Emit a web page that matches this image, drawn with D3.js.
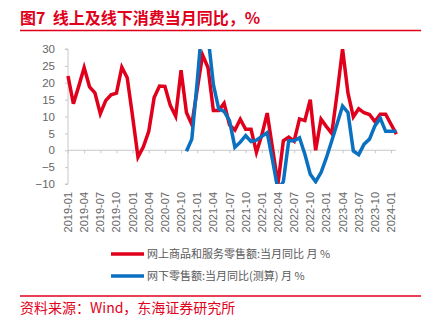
<!DOCTYPE html>
<html><head><meta charset="utf-8">
<script src="https://cdn.jsdelivr.net/npm/d3@7/dist/d3.min.js"></script>
<style>
body{margin:0;background:#fff;}
svg{display:block;font-family:"Liberation Sans",Arial,"Noto Sans CJK SC",sans-serif;}
</style></head><body>
<svg id="c" width="432" height="322"></svg>
<script>
// Months 2019-01 .. 2024-02
const months = d3.timeMonth.range(new Date(2019,0,1), new Date(2024,2,1)).map(d3.timeFormat("%Y-%m"));
const tickLabels = ["2019-01","2019-04","2019-07","2019-10","2020-01","2020-04","2020-07","2020-10","2021-01","2021-04","2021-07","2021-10","2022-01","2022-04","2022-07","2022-10","2023-01","2023-04","2023-07","2023-10","2024-01"];
const yTicks = [-10,-5,0,5,10,15,20,25,30];
const onlineName = "网上商品和服务零售额:当月同比 月 %";
const offlineName = "网下零售额:当月同比(测算) 月 %";
const onlineValues = [22,13.8,19,24.5,18.8,17,10.8,14.7,16.4,16.9,24.6,21.5,
  10,-2,1,5.6,15.6,19,18.9,13.3,10.1,23.7,11.2,7.6,
  18,28.2,24.5,11.8,11.8,13.9,7.5,6,9.2,6.2,6.2,-0.6,
  4.5,11,0.5,-10,2.8,3.9,2.7,9.3,8.8,15,0,9.2,
  7,5,17,30,17,9.9,12.3,11.1,10.6,8.5,10.7,10.7,
  7.7,4.8];
// offline starts 2020-11
const offlineStart = "2020-11";
const offlineValues = [-0.3,3.3,20.3,39,34,19.5,12.2,11.5,8.8,0.9,2.4,4.3,
  2.6,3,4.1,5.2,-3,-11.8,-9.3,2.8,2.8,3.7,-1.2,-7.1,
  -9.3,-6.6,-2.2,2.8,7.9,13.1,11.2,-0.2,-1.3,1.8,3.3,7.2,
  9.5,5.6,5.6,5.6];

const svg = d3.select("#c");
const RED = "#e0001b", BLUE = "#0a70c0", GRAY = "#666";
const x = d3.scalePoint().domain(months).range([68, 396.4]);
const y = d3.scaleLinear().domain([-10, 30]).range([184, 49]);

// title
svg.append("text").attr("x", 20).attr("y", 24).attr("fill", RED)
  .attr("font-size", 16).attr("font-weight", "bold")
  .attr("font-family", "'Noto Sans CJK SC',sans-serif")
  .style("white-space", "pre")
  .text("图7  线上及线下消费当月同比，%");
svg.append("line").attr("x1", 20).attr("x2", 421).attr("y1", 30.5).attr("y2", 30.5)
  .attr("stroke", RED).attr("stroke-width", 1.5);

// y axis
const ya = svg.append("g").attr("transform", "translate(68,0)")
  .call(d3.axisLeft(y).tickValues(yTicks).tickSize(3).tickPadding(10));
ya.select(".domain").attr("stroke", "#c8c8c8").attr("d", `M-3,${y(-10)}H0V${y(30)}H-3`);
ya.selectAll(".tick line").attr("stroke", "#c8c8c8");
ya.selectAll(".tick text").attr("fill", GRAY).attr("font-size", 11.5);

// x axis at zero
const xa = svg.append("g").attr("transform", `translate(0,${y(0)})`)
  .call(d3.axisBottom(x).tickValues(tickLabels).tickSize(3).tickFormat(""));
xa.select(".domain").attr("stroke", "#c8c8c8").attr("d", `M68,0H396`);
xa.selectAll(".tick line").attr("stroke", "#c8c8c8");

// x labels at bottom, rotated
svg.append("g").selectAll("text").data(tickLabels).join("text")
  .attr("transform", d => `translate(${x(d)+4},192) rotate(-90)`)
  .attr("text-anchor", "end").attr("fill", GRAY).attr("font-size", 11)
  .text(d => d);

// clip
svg.append("clipPath").attr("id", "clip").append("rect")
  .attr("x", 60).attr("y", y(30)).attr("width", 350).attr("height", y(-10) - y(30));

const line = d3.line().x(d => x(d[0])).y(d => y(d[1]));
const onlineData = onlineValues.map((v, i) => [months[i], v]);
const s = months.indexOf(offlineStart);
const offlineData = offlineValues.map((v, i) => [months[s + i], v]);

const g = svg.append("g").attr("clip-path", "url(#clip)");
g.append("path").datum(onlineData).attr("d", line).attr("fill", "none")
  .attr("stroke", RED).attr("stroke-width", 3.5).attr("stroke-linejoin", "miter");
g.append("path").datum(offlineData).attr("d", line).attr("fill", "none")
  .attr("stroke", BLUE).attr("stroke-width", 3.5).attr("stroke-linejoin", "miter");

// legend
const leg = [[onlineName, RED, 254], [offlineName, BLUE, 276]];
leg.forEach(([t, c, yy]) => {
  svg.append("line").attr("x1", 111).attr("x2", 144).attr("y1", yy).attr("y2", yy)
    .attr("stroke", c).attr("stroke-width", 3.5);
  svg.append("text").attr("x", 147).attr("y", yy + 4).attr("fill", "#595959")
    .attr("font-size", 11).attr("font-family", "'Noto Sans CJK SC',sans-serif").text(t);
});

// footer
svg.append("line").attr("x1", 20).attr("x2", 421).attr("y1", 296).attr("y2", 296)
  .attr("stroke", RED).attr("stroke-width", 1.5);
svg.append("text").attr("x", 20).attr("y", 313).attr("fill", RED)
  .attr("font-size", 14).attr("font-family", "'Noto Sans CJK SC',sans-serif")
  .text("资料来源：Wind，东海证券研究所");
</script></body></html>
